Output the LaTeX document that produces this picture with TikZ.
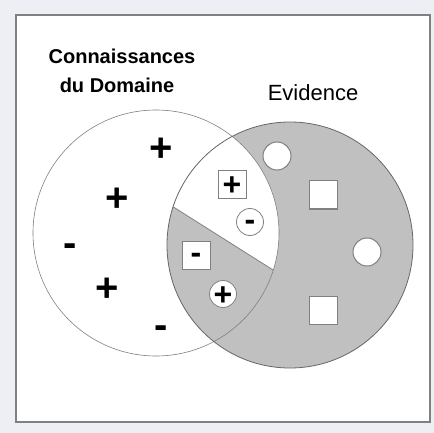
\documentclass[tikz,border=0pt]{standalone}
\usepackage{fontspec}
\setmainfont{Liberation Sans}
\definecolor{pagebg}{RGB}{237,239,244}
\definecolor{setgray}{RGB}{192,192,192}
\definecolor{edge}{RGB}{128,128,128}
\newcommand{\psign}{\raisebox{-.36em}[0pt][0pt]{+}}
\newcommand{\msign}{\raisebox{-.27em}[0pt][0pt]{-}}
\tikzset{
  sign/.style={inner sep=0pt, font=\fontsize{40}{40}\selectfont\bfseries},
  small sign/.style={inner sep=0pt, font=\fontsize{32}{32}\selectfont\bfseries},
  boxed/.style={small sign, draw=edge, fill=white, line width=.8pt, minimum size=28pt},
  ringed/.style={small sign, circle, draw=edge, fill=white, line width=.8pt, minimum size=27pt},
  hole/.style={draw=edge, fill=white, line width=1pt, inner sep=0pt, minimum size=28pt},
}
\begin{document}
\begin{tikzpicture}[x=1pt, y=-1pt]
\fill[pagebg] (0,0) rectangle (434,433);
\useasboundingbox (0,0) rectangle (434,433);
\draw[edge, line width=1.5pt, fill=white] (16,15) rectangle (430,422);

% evidence set
\fill[setgray] (290,245) circle (123);
% white part of the overlap, above the cut
\begin{scope}
\clip (156,233) circle (123);
\clip (290,245) circle (123);
\fill[white] (150,192.2) -- (300,287) -- (300,100) -- (150,100) -- cycle;
\draw[edge, line width=.8pt] (150,192.2) -- (300,287);
\end{scope}
\draw[edge, line width=.6pt] (156,233) circle (123);
\draw[edge!80!black, line width=.8pt] (290,245) circle (123);

\node[anchor=base, font=\fontsize{20}{24}\selectfont\bfseries] (dom1) at (122,64) {Connaissances};
\node[anchor=base, font=\fontsize{20}{24}\selectfont\bfseries] (dom2) at (117,92.7) {du Domaine};
\node[anchor=base, font=\fontsize{22}{26}\selectfont] (evid) at (313,100.7) {Evidence};

\node[sign] (k1) at (161,147) {\psign};
\node[sign] (k2) at (117,197) {\psign};
\node[sign] (k3) at (70,246) {\msign};
\node[sign] (k4) at (107,287) {\psign};
\node[sign] (k5) at (161,328) {\msign};

\node[boxed] (b1) at (232,184) {\psign};
\node[ringed] (r1) at (250,222) {\msign};
\node[boxed] (b2) at (196,255) {\msign};
\node[ringed] (r2) at (223,294) {\psign};

\node[hole, circle] (e1) at (277,156) {};
\node[hole] (e2) at (323,195) {};
\node[hole, circle] (e3) at (367,252) {};
\node[hole] (e4) at (323,310) {};
\end{tikzpicture}
\end{document}
